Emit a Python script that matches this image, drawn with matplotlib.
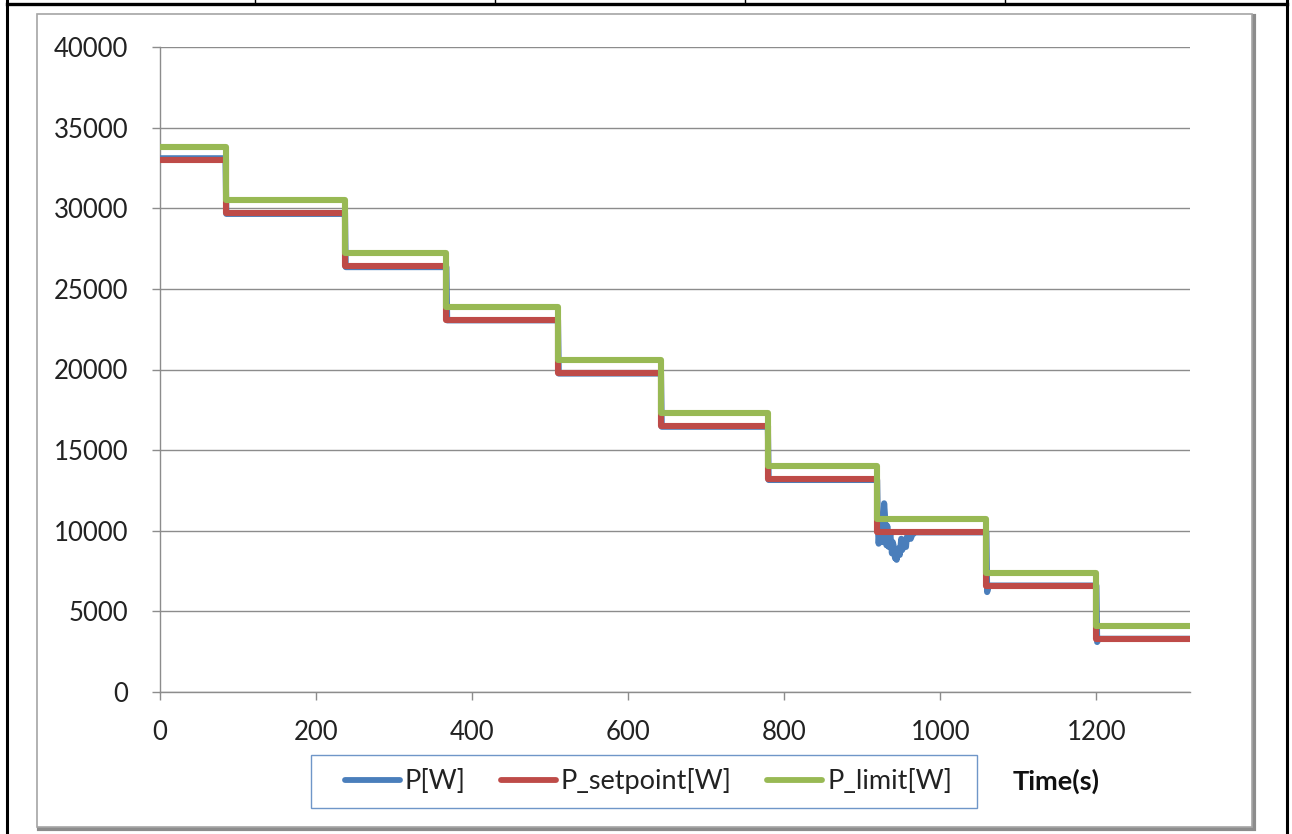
import matplotlib
matplotlib.use("Agg")
import matplotlib.pyplot as plt
from matplotlib.patches import Rectangle
from matplotlib.lines import Line2D

# ---- data ----
step_times = [0, 84, 237, 367, 510, 642, 779, 919, 1059, 1200, 1320]
setpoint_levels = [33000, 29700, 26400, 23100, 19800, 16500, 13200, 9900, 6600, 3300, 3300]
limit_levels = [33800, 30500, 27200, 23900, 20600, 17300, 14000, 10700, 7400, 4100, 4100]

p_time = [0, 84, 85, 237, 238, 367, 368, 510, 511, 642, 643, 779, 780, 919,
          920, 921, 922, 924, 926, 928, 929, 930, 931, 932, 934, 935, 936, 938,
          939, 940, 942, 943, 944, 946, 948, 950, 951, 952, 954, 956, 957, 960,
          962, 964, 968, 1059, 1060, 1062, 1200, 1201, 1203, 1320]
p_value = [33100, 33100, 29650, 29650, 26350, 26350, 23050, 23050, 19750, 19750,
           16450, 16450, 13150, 13150,
           10300, 9200, 9900, 10800, 9300, 11700, 11000, 9400, 9100, 10300, 9000,
           9600, 9800, 8600, 9300, 9100, 8300, 8700, 8200, 8900, 8500, 9500, 8800,
           8900, 9400, 9000, 9600, 9700, 9500, 9750, 9900,
           9900, 6200, 6600, 6600, 3100, 3300, 3300]

x_ticks = [0, 200, 400, 600, 800, 1000, 1200]
y_ticks = [0, 5000, 10000, 15000, 20000, 25000, 30000, 35000, 40000]
series_names = ["P[W]", "P_setpoint[W]", "P_limit[W]"]
x_label = "Time(s)"

# ---- style ----
FONT = "Lato"
FS_TICK = 18.5
FS_LEG = 19.5
c_blue = "#4a7ebb"
c_red = "#be4b48"
c_green = "#98b954"
W, H = 1292, 834
fig = plt.figure(figsize=(W / 100, H / 100), dpi=100)

bg = fig.add_axes([0, 0, 1, 1])
bg.set_xlim(0, W)
bg.set_ylim(H, 0)
bg.axis("off")
# chart frame shadow + frame
bg.add_patch(Rectangle((39, 16), 1252 - 37, 827 - 14, facecolor="none",
                       edgecolor="#8c8c8c", lw=3.0))
bg.add_patch(Rectangle((37, 14), 1252 - 37, 827 - 14, facecolor="white",
                       edgecolor="#a6a6a6", lw=1.2))
# legend frame
bg.add_patch(Rectangle((311, 755), 977 - 311, 808 - 755, facecolor="white",
                       edgecolor="#6f96c8", lw=1.0))
# table lines
bg.plot([7, 7], [0, H], color="black", lw=2.2)
bg.plot([1287, 1287], [0, H], color="black", lw=2.2)
bg.plot([7, 1287], [4, 4], color="black", lw=2.4)
for xd in [255, 495, 745, 1005]:
    bg.plot([xd, xd], [0, 4], color="black", lw=1.0)

ax = fig.add_axes([160 / W, 1 - 692 / H, (1190 - 160) / W, (692 - 47) / H])
ax.set_facecolor("none")
lw = 4.4
ax.plot(p_time, p_value, color=c_blue, lw=lw, solid_joinstyle="round",
        solid_capstyle="round", label=series_names[0], zorder=3)
ax.plot(step_times, setpoint_levels, color=c_red, lw=lw, drawstyle="steps-post",
        label=series_names[1], zorder=4)
ax.plot(step_times, limit_levels, color=c_green, lw=lw, drawstyle="steps-post",
        label=series_names[2], zorder=5)

ax.set_xlim(0, 1320)
ax.set_ylim(0, 40000)
ax.set_xticks(x_ticks)
ax.set_yticks(y_ticks)
ax.set_xticklabels([str(v) for v in x_ticks])
ax.set_yticklabels([str(v) for v in y_ticks])
ax.grid(axis="y", color="#8c8c8c", lw=1.0)
ax.set_axisbelow(True)
for s in ["top", "right"]:
    ax.spines[s].set_visible(False)
for s in ["left", "bottom"]:
    ax.spines[s].set_color("#8c8c8c")
    ax.spines[s].set_linewidth(1.0)
ax.tick_params(axis="both", direction="out", length=6, color="#8c8c8c",
               width=1.0, labelsize=FS_TICK, labelcolor="#222222")
ax.tick_params(axis="y", pad=17)
ax.tick_params(axis="x", pad=14)
for t in ax.get_xticklabels() + ax.get_yticklabels():
    t.set_fontfamily(FONT)

fs_px = FS_LEG * 100 / 72
handles = [Line2D([], [], color=c, lw=4.2, solid_capstyle="round")
           for c in (c_blue, c_red, c_green)]
leg = fig.legend(handles, series_names, loc="center left",
                 bbox_to_anchor=(345 / W, 1 - 781 / H),
                 ncol=3, frameon=False,
                 prop={"family": FONT, "size": FS_LEG},
                 handlelength=55 / fs_px, handletextpad=5 / fs_px,
                 columnspacing=35 / fs_px, borderpad=0, borderaxespad=0)
for t in leg.get_texts():
    t.set_color("#222222")

fig.text(1056 / W, 1 - 781 / H, x_label, ha="center", va="center",
         fontsize=FS_LEG, fontweight="bold", family=FONT, color="#111111")

fig.savefig("out.png", dpi=100)
